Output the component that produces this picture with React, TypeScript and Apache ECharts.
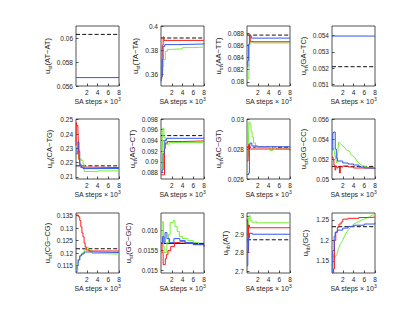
import React, { useEffect, useRef } from "react";
import * as echarts from "echarts";

type Pt = [number, number];

// ---- axes ----
const X_TICKS = [2, 4, 6, 8];
const Y_NAMES = [
  ["st", "(AT−AT)"], ["st", "(TA−TA)"], ["st", "(AA−TT)"], ["st", "(GA−TC)"],
  ["st", "(CA−TG)"], ["st", "(AG−CT)"], ["st", "(AC−GT)"], ["st", "(GG−CC)"],
  ["st", "(CG−CG)"], ["st", "(GC−GC)"], ["hb", "(AT)"], ["hb", "(GC)"],
];
const Y_TICKS: number[][] = [
  [0.056, 0.058, 0.06], [0.36, 0.38, 0.4], [0.08, 0.082, 0.084, 0.086, 0.088], [0.051, 0.052, 0.053, 0.054],
  [0.21, 0.22, 0.23, 0.24, 0.25], [0.088, 0.09, 0.092, 0.094, 0.096, 0.098], [0.026, 0.028, 0.03], [0.05, 0.052, 0.054, 0.056],
  [0.115, 0.12, 0.125, 0.13, 0.135], [0.015, 0.0155, 0.016], [2.7, 2.8, 2.9, 3], [1.15, 1.2, 1.25],
];
const Y_RANGE: Pt[] = [
  [0.056, 0.061], [0.35, 0.4], [0.0793, 0.0892], [0.0509, 0.0546],
  [0.2085, 0.2505], [0.0868, 0.098], [0.026, 0.03], [0.05, 0.056],
  [0.112, 0.136], [0.01494, 0.01644], [2.69, 3.015], [1.12, 1.267],
];

// ---- reference (black dashed) values ----
const REF = [0.0603, 0.39, 0.0877, 0.05209, 0.2177, 0.0949, 0.02812, 0.05126, 0.1217, 0.01568, 2.87, 1.2335];

// ---- traces [steps x10^3, value] ----
const blue1: Pt[] = [[0, 0.0567], [8, 0.0567]];

const red2: Pt[] = [[0, 0.356], [0.15, 0.362], [0.25, 0.384], [0.4, 0.391], [0.55, 0.388], [8, 0.388]];
const blue2: Pt[] = [[0, 0.354], [0.1, 0.358], [0.25, 0.372], [0.4, 0.383], [0.7, 0.3845], [3, 0.385], [8, 0.3856]];
const green2: Pt[] = [[0, 0.358], [0.2, 0.362], [0.35, 0.366], [0.5, 0.372], [0.8, 0.379], [1.2, 0.3805], [2, 0.381], [4, 0.382], [6, 0.3825], [8, 0.3828]];

const red3: Pt[] = [[0, 0.0877], [0.45, 0.0875], [0.6, 0.0866], [8, 0.0866]];
const blue3: Pt[] = [[0, 0.0825], [0.15, 0.0835], [0.3, 0.0862], [0.45, 0.0876], [0.8, 0.0872], [8, 0.0871]];
const green3: Pt[] = [[0, 0.0805], [0.35, 0.0805], [0.45, 0.0862], [0.7, 0.0866], [1.2, 0.0864], [8, 0.0863]];

const blue4: Pt[] = [[0, 0.05398], [8, 0.05398]];

const red5: Pt[] = [[0, 0.232], [0.05, 0.248], [0.15, 0.246], [0.35, 0.244], [0.45, 0.232], [0.55, 0.222], [0.7, 0.218], [1, 0.2168], [3, 0.2165], [8, 0.2165]];
const blue5: Pt[] = [[0, 0.226], [0.2, 0.23], [0.35, 0.2345], [0.55, 0.228], [0.7, 0.219], [0.9, 0.2165], [1.3, 0.2158], [8, 0.2157]];
const green5: Pt[] = [[0, 0.226], [0.3, 0.228], [0.5, 0.2225], [1.0, 0.2215], [1.3, 0.219], [1.5, 0.2138], [3, 0.2135], [4, 0.2142], [8, 0.2143]];

const red6: Pt[] = [[0, 0.0876], [0.5, 0.0876], [0.65, 0.0925], [0.8, 0.0935], [1.2, 0.0938], [4, 0.0939], [8, 0.094]];
const blue6: Pt[] = [[0, 0.088], [0.2, 0.0885], [0.4, 0.0915], [0.6, 0.094], [1, 0.0944], [8, 0.0944]];
const green6: Pt[] = [[0, 0.0885], [0.25, 0.092], [0.35, 0.0963], [0.55, 0.0945], [0.9, 0.0933], [1.5, 0.0936], [8, 0.0937]];

const green7: Pt[] = [[0, 0.0275], [0.25, 0.0282], [0.35, 0.0298], [0.55, 0.0296], [0.75, 0.0292], [0.95, 0.0288], [1.2, 0.0284], [1.6, 0.0281], [4.3, 0.0279], [4.8, 0.0281], [5.5, 0.028], [8, 0.0279]];
const red7: Pt[] = [[0, 0.0272], [0.2, 0.0278], [0.3, 0.0283], [0.45, 0.028], [8, 0.0279]];
const blue7: Pt[] = [[0, 0.0263], [0.3, 0.0264], [0.45, 0.0279], [0.55, 0.0284], [0.9, 0.0282], [2, 0.02815], [8, 0.0281]];

const blue8: Pt[] = [[0, 0.0529], [0.15, 0.0546], [0.3, 0.0547], [0.6, 0.053], [0.8, 0.0521], [1.0, 0.0518], [2, 0.0516], [3, 0.0515], [4, 0.0514], [5, 0.0512], [6, 0.0511], [8, 0.051]];
const green8: Pt[] = [[0, 0.0528], [0.3, 0.0531], [0.6, 0.0522], [0.9, 0.0516], [1.1, 0.0528], [1.25, 0.0537], [1.8, 0.0534], [2.3, 0.0532], [2.7, 0.0529], [3.2, 0.0528], [3.6, 0.0524], [4.2, 0.0522], [4.6, 0.0518], [5.2, 0.0515], [5.8, 0.0513], [6.5, 0.0512], [7.2, 0.0511], [8, 0.051]];
const red8: Pt[] = [[0, 0.0522], [0.2, 0.0519], [0.35, 0.0514], [0.55, 0.0509], [0.7, 0.0513], [0.9, 0.0511], [1.1, 0.0512], [1.4, 0.0506], [1.55, 0.0512], [2, 0.0513], [3, 0.0512], [4, 0.0511], [8, 0.0511]];

const red9: Pt[] = [[0, 0.1352], [0.4, 0.1345], [0.7, 0.133], [0.9, 0.1305], [1.1, 0.128], [1.3, 0.1265], [1.5, 0.124], [1.7, 0.1225], [1.9, 0.1212], [2.5, 0.1208], [8, 0.1207]];
const green9: Pt[] = [[0, 0.1135], [0.2, 0.116], [0.4, 0.1175], [0.7, 0.119], [1.1, 0.12], [1.5, 0.1212], [1.8, 0.1222], [2.3, 0.1208], [3, 0.1198], [4, 0.1196], [8, 0.1196]];
const blue9: Pt[] = [[0, 0.1125], [0.2, 0.115], [0.4, 0.1172], [0.7, 0.1188], [1.0, 0.1196], [1.5, 0.1204], [3, 0.1202], [8, 0.1201]];

const green10: Pt[] = [[0, 0.0157], [0.2, 0.01622], [0.45, 0.0156], [0.6, 0.01545], [1.1, 0.0157], [1.4, 0.0159], [1.7, 0.0162], [2.3, 0.01625], [2.6, 0.0161], [3.0, 0.01598], [3.4, 0.01585], [4, 0.0158], [5, 0.01575], [6, 0.0157], [7, 0.01565], [8, 0.0156]];
const red10: Pt[] = [[0, 0.0157], [0.2, 0.01545], [0.4, 0.01515], [0.8, 0.0153], [1.0, 0.0154], [1.3, 0.0155], [1.8, 0.0156], [2.5, 0.0157], [3.5, 0.01572], [4.5, 0.01568], [6, 0.01565], [8, 0.0156]];
const blue10: Pt[] = [[0, 0.0157], [0.3, 0.01585], [0.55, 0.0157], [0.75, 0.01595], [1.1, 0.0158], [1.6, 0.0157], [2.4, 0.0158], [3.5, 0.01575], [4.5, 0.0157], [6, 0.01565], [8, 0.0156]];

const green11: Pt[] = [[0, 2.88], [0.25, 2.93], [0.35, 3.0], [0.6, 2.975], [0.9, 2.965], [1.3, 2.968], [1.8, 2.962], [8, 2.962]];
const red11: Pt[] = [[0, 2.97], [0.1, 2.98], [0.2, 2.8], [0.3, 2.95], [0.45, 2.935], [8, 2.935]];
const blue11: Pt[] = [[0, 2.73], [0.15, 2.81], [0.3, 2.88], [0.45, 2.905], [1, 2.9], [8, 2.9]];

const red12: Pt[] = [[0, 1.12], [0.3, 1.13], [0.45, 1.2], [0.7, 1.22], [1.0, 1.232], [1.3, 1.24], [1.7, 1.245], [2, 1.252], [3, 1.254], [5, 1.256], [7, 1.257], [8, 1.258]];
const blue12: Pt[] = [[0, 1.12], [0.15, 1.175], [0.4, 1.21], [0.6, 1.22], [1, 1.225], [2, 1.23], [3, 1.234], [4, 1.237], [6, 1.24], [8, 1.243]];
const green12: Pt[] = [[0, 1.12], [0.25, 1.165], [0.45, 1.156], [0.9, 1.165], [1.2, 1.18], [1.5, 1.19], [2, 1.2], [2.5, 1.215], [3, 1.225], [3.5, 1.232], [4, 1.24], [5, 1.246], [6, 1.252], [7, 1.258], [7.5, 1.262], [8, 1.262]];

const GREEN: (Pt[] | null)[] = [null, green2, green3, null, green5, green6, green7, green8, green9, green10, green11, green12];
const RED: (Pt[] | null)[] = [null, red2, red3, null, red5, red6, red7, red8, red9, red10, red11, red12];
const BLUE: (Pt[] | null)[] = [blue1, blue2, blue3, blue4, blue5, blue6, blue7, blue8, blue9, blue10, blue11, blue12];

// ---- layout ----
const COL_LEFT = [76, 161, 247, 332];
const ROW_TOP = [26, 119, 213];
const BOX_W = 43;
const BOX_H = 60;
const NAME_GAP = [23, 21, 24, 24, 22, 22, 24, 24, 24, 23, 17, 22];

const FONT = "'Liberation Sans', Arial, Helvetica, sans-serif";
const AX = "#262626";
const C_RED = "#ff1a1a";
const C_GREEN = "#77f03a";
const C_BLUE = "#3355f0";

const fmt = (v: number) => String(parseFloat(Number(v).toPrecision(8)));

export default function App() {
  const ref = useRef<HTMLDivElement>(null);
  useEffect(() => {
    if (!ref.current) return;
    const chart = echarts.init(ref.current, undefined, { renderer: "svg" });
    const grid: any[] = [];
    const xAxis: any[] = [];
    const yAxis: any[] = [];
    const series: any[] = [];
    for (let i = 0; i < 12; i++) {
      const r = Math.floor(i / 4);
      const c = i % 4;
      grid.push({
        left: COL_LEFT[c], top: ROW_TOP[r], width: BOX_W, height: BOX_H,
        show: true, borderColor: AX, borderWidth: 0.8, backgroundColor: "transparent",
      });
      xAxis.push({
        type: "value", gridIndex: i, min: 0, max: 8,
        splitLine: { show: false },
        axisLine: { show: false },
        axisTick: { show: true, inside: true, length: 2.5, customValues: X_TICKS, lineStyle: { color: AX, width: 0.8 } },
        axisLabel: { customValues: X_TICKS, margin: 3, fontSize: 6.5, fontFamily: FONT, color: AX },
        name: "{a|SA steps × 10}{b|3}",
        nameLocation: "middle",
        nameGap: 9,
        nameTextStyle: {
          fontFamily: FONT, color: AX,
          rich: {
            a: { fontSize: 7, fontFamily: FONT, color: AX, lineHeight: 10 },
            b: { fontSize: 5, fontFamily: FONT, color: AX, lineHeight: 5, padding: [0, 0, 5, 0] },
          },
        },
      });
      const [sub, rest] = Y_NAMES[i];
      yAxis.push({
        type: "value", gridIndex: i, min: Y_RANGE[i][0], max: Y_RANGE[i][1],
        splitLine: { show: false },
        axisLine: { show: false },
        axisTick: { show: true, inside: true, length: 2.5, customValues: Y_TICKS[i], lineStyle: { color: AX, width: 0.8 } },
        axisLabel: { customValues: Y_TICKS[i], margin: 3, fontSize: 6.5, fontFamily: FONT, color: AX, formatter: (v: number) => fmt(v) },
        name: `{u|u}{s|${sub}}{u|${rest}}`,
        nameLocation: "middle",
        nameRotate: 90,
        nameGap: NAME_GAP[i],
        nameTextStyle: {
          fontFamily: FONT, color: AX,
          rich: {
            u: { fontSize: 7.5, fontFamily: FONT, color: AX, lineHeight: 10 },
            s: { fontSize: 5.5, fontFamily: FONT, color: AX, lineHeight: 5, padding: [5, 0, 0, 0] },
          },
        },
      });
      const base = { type: "line", xAxisIndex: i, yAxisIndex: i, showSymbol: false, symbol: "none", silent: true, clip: true, z: 2 };
      series.push({
        ...base,
        data: [[0, REF[i]], [8, REF[i]]],
        lineStyle: { color: "#111", width: 1, type: i === 9 ? "solid" : [4, 2.2] },
      });
      const smooth = i === 7 || i === 11;
      if (GREEN[i]) series.push({ ...base, step: smooth ? false : "end", data: GREEN[i], lineStyle: { color: C_GREEN, width: 1 } });
      if (RED[i]) series.push({ ...base, step: "end", data: RED[i], lineStyle: { color: C_RED, width: 1 } });
      if (BLUE[i]) series.push({ ...base, step: "end", data: BLUE[i], lineStyle: { color: C_BLUE, width: 1 } });
    }
    chart.setOption({ animation: false, grid, xAxis, yAxis, series });
    return () => chart.dispose();
  }, []);
  return (
    <div
      ref={ref}
      style={{ position: "absolute", left: 0, top: 0, width: 415, height: 312, background: "#fff" }}
    />
  );
}
